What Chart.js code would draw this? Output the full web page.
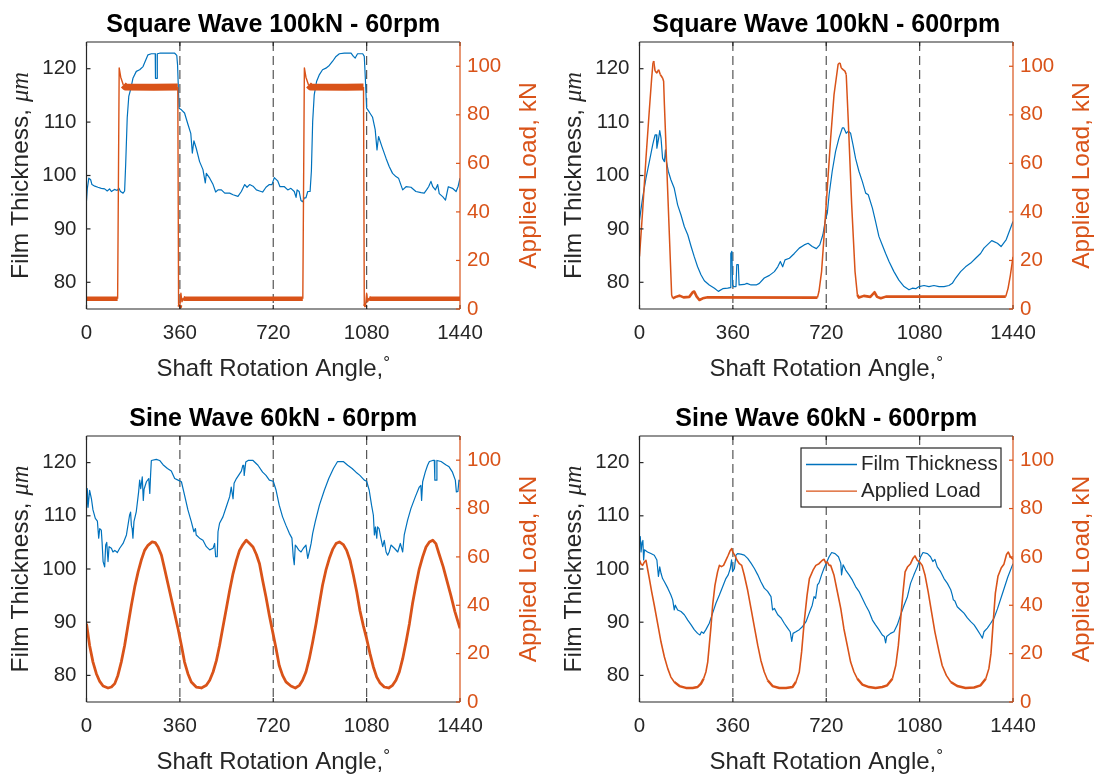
<!DOCTYPE html>
<html>
<head>
<meta charset="utf-8">
<title>Film thickness and applied load</title>
<script src="https://cdn.jsdelivr.net/npm/chart.js@4.4.1/dist/chart.umd.min.js"></script>
<style>
  html, body { margin: 0; padding: 0; background: #fff; }
  #page { position: relative; width: 1094px; height: 779px; overflow: hidden; }
  #page canvas { position: absolute; }
</style>
</head>
<body>
<div id="page">
  <canvas id="sq60" width="547" height="385" style="left:0;top:0"></canvas>
  <canvas id="sq600" width="541" height="385" style="left:553px;top:0"></canvas>
  <canvas id="sin60" width="547" height="385" style="left:0;top:394px"></canvas>
  <canvas id="sin600" width="541" height="385" style="left:553px;top:394px"></canvas>
</div>
<script>
const BLUE = '#0072BD';
const ORANGE = '#D95319';
const INK = '#262626';
const SANS = '"Liberation Sans", Arial, sans-serif';

const angleTicks = [0, 360, 720, 1080, 1440];
const filmTicks = [80, 90, 100, 110, 120];
const loadTicks = [0, 20, 40, 60, 80, 100];
const cycleMarks = [360, 720, 1080];
const seriesNames = ['Film Thickness', 'Applied Load'];

// film thickness: [shaft angle deg, um]
const sq60Film = [[0,95.3],[3,97.5],[9,99.5],[16,99.2],[21,98.3],[32,98],[44,97.8],[57,97.6],[70,97.5],[80,97.1],[89,97.5],[96,97],[108,97.4],[118,97.2],[125,97.6],[131,97],[141,96.7],[147,97.1],[151,102],[157,110.8],[163,114.8],[170,116.1],[179,118.2],[192,119.5],[205,119.8],[218,120.4],[224,121.1],[237,122.6],[250,122.8],[265,122.8],[266,118.2],[272,118.2],[273,122.8],[282,122.9],[340,122.9],[348,122.5],[351,120.8],[357,112.6],[366,112.3],[378,111.7],[391,109.6],[402,107.9],[408,104.2],[414,106.5],[423,105.1],[436,102.6],[449,101.1],[458,98.6],[462,100.4],[475,99.5],[488,98.3],[498,96.9],[507,97.3],[520,97.3],[533,96.7],[552,96.7],[565,96.4],[584,96.1],[597,97],[610,98.3],[619,97.8],[629,98.3],[642,98],[655,97.3],[667,97.1],[679,96.9],[692,97.8],[705,98.3],[715,98.3],[724,99.6],[737,99],[746,97.9],[763,97.9],[776,97.3],[788,97.6],[801,97],[808,95.9],[812,97.3],[820,97],[827,95.3],[833,95.1],[840,95.8],[846,95.8],[853,97],[862,97],[867,100.8],[872,110.1],[878,115.1],[887,117.6],[898,118.9],[910,119.8],[923,120.1],[936,120.6],[949,121.4],[962,122.3],[975,122.8],[994,122.9],[1020,122.9],[1029,122.3],[1036,122],[1045,122.8],[1065,122.8],[1071,122.3],[1075,118.2],[1080,112.6],[1090,111.9],[1103,110.9],[1113,108.6],[1120,104.8],[1126,107.3],[1139,105.4],[1155,103.2],[1167,101.7],[1180,100.4],[1193,99.8],[1203,99.5],[1219,97.3],[1232,97.9],[1251,97.8],[1270,97],[1290,96.8],[1302,96.7],[1311,97.3],[1319,97.9],[1328,98.9],[1335,97.9],[1345,97.3],[1354,98.3],[1360,96.6],[1374,96],[1384,95.4],[1395,97.9],[1411,97.6],[1425,97],[1433,98],[1440,99.5]];
const sq600Film = [[0,91.7],[12,95.8],[25,99.5],[38,102.6],[51,105.8],[60,107.6],[65,107.6],[67,105.1],[73,106.7],[78,108.4],[83,107],[89,103.2],[96,102.6],[100,104.8],[104,102.6],[111,100.8],[121,99.2],[134,97.6],[147,94.5],[160,92.6],[173,90.4],[186,88.9],[199,86.7],[211,84.8],[224,82.9],[237,81.4],[250,80.3],[269,79.5],[289,78.9],[304,78.3],[321,78.8],[340,78.9],[350,79],[352,85.4],[356,85.8],[359,79.5],[363,79.2],[372,79.2],[375,83.3],[381,83.3],[384,79.5],[404,79.6],[414,79.8],[430,79.5],[450,79.5],[462,79.8],[481,80.8],[501,81.3],[520,82],[533,82.9],[543,83.9],[552,82.9],[561,84.2],[578,84.5],[597,85.4],[616,86.4],[635,87],[650,87.3],[666,86.7],[682,86.3],[695,87],[707,88.9],[718,92],[724,92.9],[731,96.4],[743,100.8],[756,104.5],[769,107],[782,108.9],[788,108.9],[797,107.9],[805,108.3],[814,107.9],[823,105.8],[833,103.2],[846,100.8],[859,98.9],[872,96.7],[882,96.4],[898,93.9],[910,91.4],[923,88.6],[936,87],[949,85.4],[962,83.9],[981,82],[1000,80.4],[1020,79.2],[1039,78.6],[1052,78.9],[1065,78.8],[1078,79.2],[1097,79.4],[1116,79.2],[1135,79.4],[1155,79.2],[1174,79.2],[1193,79.4],[1206,79.8],[1219,80.8],[1238,82],[1257,82.9],[1277,83.6],[1296,84.5],[1315,85.4],[1328,86.4],[1341,87],[1358,87.8],[1380,87.3],[1394,86.7],[1414,88],[1440,91.4]];
const sin60Film = [[0,111.4],[3,115.1],[6,111.6],[12,114.8],[19,113.2],[25,111.1],[34,109.5],[42,109],[47,105.8],[51,107.6],[57,107.3],[60,105.1],[64,101.4],[70,100.4],[74,104.5],[78,105],[83,101.4],[87,104.2],[96,103.9],[102,103.2],[109,103.5],[119,103.1],[128,103.9],[141,104.8],[154,106.4],[166,110.1],[170,110.7],[173,108.2],[176,107.6],[179,105.8],[183,108.9],[192,110.8],[201,114.5],[205,116.7],[209,115.1],[215,117.3],[219,112.9],[222,115],[231,116.4],[240,117],[244,114.2],[247,117.6],[250,120.4],[269,120.6],[282,120.4],[295,119.6],[312,118.9],[327,118.4],[340,117],[353,116.7],[366,116.4],[378,113.9],[391,111.1],[404,108.9],[414,107],[420,107.6],[423,106.4],[436,105.8],[449,105.4],[462,104.2],[475,103.6],[488,103.9],[494,104.8],[498,102.3],[504,102.3],[507,107],[513,108.6],[526,109.8],[539,111.7],[552,113.6],[558,115.4],[565,113.2],[569,116.1],[578,117],[597,118.4],[603,119.5],[606,119.5],[608,117.6],[611,117.6],[614,120.1],[623,120.4],[642,120.4],[661,119.5],[679,118.2],[692,117.6],[705,116.7],[720,116.5],[731,114.8],[743,112],[756,109.8],[769,108.2],[782,106.7],[792,105.8],[797,102.3],[801,100.8],[805,104.5],[810,104.2],[818,103.6],[827,103.2],[836,103.9],[846,104.5],[853,102],[862,103.9],[866,104.8],[872,106.7],[882,108.9],[898,112],[917,114.8],[934,117],[952,118.9],[968,120.2],[990,120.2],[1007,119.5],[1024,118.9],[1039,118.2],[1054,117.6],[1071,116.7],[1080,116.5],[1090,114.8],[1099,112],[1106,110.1],[1110,106.4],[1114,107.9],[1119,105.8],[1122,107.9],[1128,107.6],[1135,105.8],[1142,104.2],[1148,105.4],[1155,103.2],[1161,102.6],[1167,103.2],[1174,104.5],[1187,103.9],[1200,103.2],[1210,104.8],[1219,103.2],[1225,106.4],[1238,109.2],[1251,111.4],[1268,113.6],[1283,115.4],[1289,115.7],[1292,112.9],[1296,116.4],[1306,118.2],[1315,119.5],[1322,120.2],[1335,120.4],[1341,120.4],[1343,116.7],[1350,116.7],[1351,120.4],[1367,120.2],[1385,119.6],[1398,119.2],[1411,118.2],[1422,116.7],[1426,114.5],[1432,114.6],[1436,116.7],[1440,116.5]];
const sin600Film = [[0,104.8],[3,106.1],[6,103.2],[10,105.1],[13,105.4],[16,101.7],[19,103.6],[31,103.2],[44,102.9],[57,102.6],[67,101.7],[73,98.6],[78,100.4],[83,99.2],[89,98.2],[96,97.6],[109,96.4],[121,95.1],[128,94.2],[134,92.3],[138,93.2],[147,92.3],[160,92],[173,91.4],[186,90.4],[199,89.5],[211,88.6],[224,87.9],[233,87.6],[239,88.2],[247,87.9],[256,88.6],[269,89.8],[282,91.7],[295,93.6],[308,95.1],[321,96.7],[333,98.2],[342,98.9],[350,100.1],[355,101.7],[359,99.5],[366,100.1],[372,102.6],[378,102.9],[391,102.8],[404,102.6],[417,102],[430,101.1],[443,100.1],[456,98.9],[468,97.6],[481,96.4],[494,95.8],[507,94.8],[513,92.3],[520,92.6],[533,91.4],[546,90.8],[558,89.8],[571,88.9],[581,88.2],[587,86.4],[592,87.9],[603,88.2],[616,88.6],[629,89.2],[642,90.1],[655,91.8],[666,93.2],[673,94.8],[679,94.5],[686,97],[692,97.4],[702,98.9],[711,100.1],[720,101.1],[731,102.3],[741,103.1],[754,102.9],[767,102.3],[776,101.1],[779,98.9],[785,100.8],[795,99.8],[808,98.9],[821,97.9],[833,96.7],[846,95.8],[859,94.5],[872,93.2],[885,92],[898,90.4],[910,89.5],[923,88.6],[936,87.6],[944,87.3],[949,86.1],[953,87.3],[968,87.9],[981,88.2],[994,89.5],[1007,91.4],[1020,93.2],[1033,94.8],[1045,97.3],[1058,98.9],[1071,100.4],[1084,102.3],[1093,103.1],[1110,102.9],[1122,102.3],[1131,101.4],[1139,101.8],[1148,100.4],[1161,99.5],[1174,98.2],[1187,97.3],[1200,96.1],[1206,95.1],[1210,94.2],[1216,94],[1225,92.9],[1238,92.3],[1251,91.7],[1264,90.8],[1277,90.1],[1290,89.5],[1302,88.6],[1315,87.6],[1322,87],[1328,88.2],[1341,88.9],[1354,89.8],[1367,90.8],[1380,92.5],[1400,95.5],[1420,98.5],[1440,101]];

// applied load: [shaft angle deg, kN]
const sq60Load = [[0,4.2],[120,4.2],[126,99.3],[132,95.5],[142,92.3],[150,91.5],[260,91.4],[352,91.5],[355,2],[357,1],[360,1.5],[364,6.5],[368,3],[373,4.5],[380,4.2],[834,4.2],[840,99.3],[846,95.5],[856,92.3],[864,91.5],[1000,91.4],[1068,91.5],[1071,2],[1073,1],[1076,1.5],[1080,6.5],[1084,3],[1089,4.5],[1096,4.2],[1440,4.2]];
const sq600Load = [[0,21.6],[12,40.3],[25,62.2],[38,82.1],[47,95.2],[52,101.4],[55,102.1],[60,98],[67,97.3],[74,98.6],[80,96.6],[89,95.2],[93,93.8],[96,84.2],[124,5.8],[128,4.4],[140,5],[154,5.5],[170,4.8],[192,5],[205,6.9],[211,7.2],[220,5.2],[231,3.7],[244,4.4],[263,4.8],[686,4.7],[692,7.3],[702,15.4],[711,29.2],[724,49.8],[737,70.4],[750,88.3],[766,101],[773,101.4],[778,99.3],[785,98.6],[792,98],[797,96.6],[805,77.3],[818,43],[831,15.4],[840,5.8],[846,4.7],[865,5.4],[890,5],[906,6.9],[916,5],[930,4.4],[950,5.1],[1412,5.1],[1421,8.5],[1430,14],[1440,21.5]];
const sin60Load = [[0,32.4],[12,23.4],[25,16.5],[38,11.7],[51,8.5],[64,6.6],[83,5.8],[96,6.2],[109,7.6],[121,11],[134,16.5],[147,23.4],[160,31.7],[173,40],[186,47.6],[199,53.8],[211,58.6],[224,62.7],[237,64.8],[253,66.2],[265,65.9],[276,64.1],[289,60.7],[301,55.1],[314,48.9],[327,42.7],[340,36.5],[353,30.3],[366,23.4],[378,16.5],[391,11.7],[404,8.3],[423,6.2],[443,5.8],[462,6.9],[475,9],[488,12.4],[501,17.2],[513,23.4],[526,31],[539,38.6],[552,46.2],[565,53.1],[578,58.6],[590,62.7],[603,65.1],[616,66.9],[629,65.5],[642,64.1],[655,61],[667,57.2],[679,50.3],[692,43.4],[705,35.8],[718,28.9],[731,22],[743,15.1],[756,11],[769,8.3],[788,6.6],[805,5.8],[821,6.9],[833,9],[846,12.4],[859,17.9],[872,24.8],[885,32.4],[898,40.7],[910,48.3],[923,54.5],[936,59.3],[949,63.1],[962,65.5],[975,66.2],[990,65.1],[1003,62.7],[1016,58.6],[1029,52.4],[1042,45.5],[1054,37.9],[1067,31.7],[1080,26.2],[1093,20],[1106,14.5],[1119,10.3],[1131,8],[1148,6.2],[1165,5.8],[1180,6.9],[1193,9],[1206,12.4],[1219,17.9],[1232,24.8],[1245,32.4],[1257,40.7],[1270,48.3],[1283,55.1],[1296,60],[1309,64.1],[1322,66.2],[1335,66.9],[1347,65.5],[1360,61],[1375,56],[1390,50],[1405,44],[1420,37.5],[1440,30.5]];
const sin600Load = [[0,58.6],[6,57],[12,56.5],[19,57.9],[25,58.6],[31,55.1],[38,51],[47,45.5],[57,40],[70,32.4],[83,24.8],[96,18.6],[109,13.8],[121,10.3],[134,8.3],[154,6.6],[179,5.8],[205,5.8],[224,6.2],[237,7.6],[247,9.6],[256,12.4],[263,16.5],[269,23.4],[276,31.7],[282,40],[291,48.3],[301,53.8],[308,56.5],[316,56],[324,56.5],[333,58.6],[342,60.7],[350,62.7],[355,63.4],[360,62],[368,60.5],[376,58.6],[385,57.2],[394,56.5],[404,52.4],[417,46.2],[430,38.6],[443,31],[456,23.4],[468,17.2],[481,12.4],[494,9],[513,6.6],[539,5.8],[565,5.8],[590,6.2],[603,8.3],[616,12.4],[625,20.7],[635,33.1],[646,44.1],[655,51],[669,54.5],[680,56.5],[692,57.2],[705,58.6],[712,59],[718,57.5],[724,57.9],[731,56.5],[737,56.5],[750,52.4],[763,45.5],[776,38.6],[788,30.3],[801,23.4],[814,16.5],[827,12.4],[840,9.6],[859,7.2],[885,6.2],[910,5.8],[936,6.2],[955,6.9],[975,9.6],[988,15.1],[998,23.4],[1007,34.5],[1016,45.5],[1024,53.8],[1033,55.8],[1045,57.2],[1054,59.3],[1062,60.4],[1071,58.6],[1080,57.9],[1090,56.5],[1101,52.4],[1113,45.5],[1126,37.2],[1139,28.9],[1155,20.7],[1167,15.1],[1183,11],[1200,8.3],[1225,6.6],[1257,5.8],[1290,6],[1315,6.9],[1335,9.6],[1347,13.8],[1355,20],[1363,32],[1372,45],[1382,52],[1395,55.5],[1405,57],[1415,61],[1422,62],[1430,60],[1440,59]];

const toXY = pts => pts.map(([x, y]) => ({ x, y }));
const slope = c => Math.abs((c.p1.parsed.y - c.p0.parsed.y) / ((c.p1.parsed.x - c.p0.parsed.x) || 1));

// the load signal is noisy, so its flat stretches read as a thick band; steep edges stay thin
const sq60Width = c => slope(c) > 0.25 ? 1.4 : (c.p0.parsed.y > 50 ? 7 : 4.5);
const sq600Width = c => slope(c) > 0.3 ? 1.5 : (c.p0.parsed.y < 12 ? 2.6 : 1.6);
const sin60Width = () => 2.8;
const sin600Width = c => (c.p0.parsed.y < 10 && c.p1.parsed.y < 10) ? 2.4 : 1.6;

const tickFont = { family: SANS, size: 20.5 };
const plainLabel = v => String(v);

// draws pieces of text with their own fonts, centred on x
const drawParts = (ctx, parts, x, y) => {
  const widths = parts.map(p => { ctx.font = p.font; return ctx.measureText(p.text).width; });
  let cx = x - widths.reduce((a, b) => a + b, 0) / 2;
  parts.forEach((p, i) => {
    ctx.font = p.font;
    ctx.fillText(p.text, cx, y + (p.dy || 0));
    cx += widths[i];
  });
};

const decor = cfg => ({
  id: 'decor',
  beforeDatasetsDraw(chart) {
    const { ctx, chartArea: a, scales: { x } } = chart;
    ctx.save();
    ctx.strokeStyle = '#555';
    ctx.lineWidth = 1.2;
    ctx.setLineDash([9, 5]);
    cycleMarks.forEach(v => {
      const px = x.getPixelForValue(v);
      ctx.beginPath(); ctx.moveTo(px, a.top); ctx.lineTo(px, a.bottom); ctx.stroke();
    });
    ctx.restore();
  },
  afterDraw(chart) {
    const { ctx, chartArea: a, scales: { x, y, load } } = chart;
    const line = (x1, y1, x2, y2) => { ctx.beginPath(); ctx.moveTo(x1, y1); ctx.lineTo(x2, y2); ctx.stroke(); };
    ctx.save();

    // box and inward ticks
    ctx.lineWidth = 1.2;
    ctx.strokeStyle = INK;
    line(a.left, a.top, a.right, a.top);
    line(a.left, a.bottom, a.right, a.bottom);
    line(a.left, a.top, a.left, a.bottom);
    angleTicks.forEach(v => {
      const px = x.getPixelForValue(v);
      line(px, a.bottom, px, a.bottom - 4);
      line(px, a.top, px, a.top + 4);
    });
    filmTicks.forEach(v => { const py = y.getPixelForValue(v); line(a.left, py, a.left + 4, py); });
    ctx.strokeStyle = ORANGE;
    line(a.right, a.top, a.right, a.bottom);
    loadTicks.forEach(v => { const py = load.getPixelForValue(v); line(a.right, py, a.right - 4, py); });

    const midX = (a.left + a.right) / 2;
    const midY = (a.top + a.bottom) / 2;
    ctx.textBaseline = 'alphabetic';
    ctx.textAlign = 'left';

    ctx.fillStyle = '#000';
    drawParts(ctx, [{ text: cfg.title, font: `bold 25px ${SANS}` }], midX, 31.5);

    ctx.fillStyle = INK;
    drawParts(ctx, [
      { text: 'Shaft Rotation Angle,', font: `24px ${SANS}` },
      { text: '°', font: `17px ${SANS}`, dy: -8 }
    ], midX, a.bottom + 67);

    ctx.save();
    ctx.translate(a.left - 58.5, midY);
    ctx.rotate(-Math.PI / 2);
    drawParts(ctx, [
      { text: 'Film Thickness, ', font: `24.5px ${SANS}` },
      { text: 'μm', font: `italic 24.5px "Liberation Serif", serif` }
    ], 0, 0);
    ctx.restore();

    ctx.save();
    ctx.fillStyle = ORANGE;
    ctx.translate(a.right + 76, midY);
    ctx.rotate(-Math.PI / 2);
    drawParts(ctx, [{ text: 'Applied Load, kN', font: `24.5px ${SANS}` }], 0, 0);
    ctx.restore();

    if (cfg.legend) {
      const bw = 200, bh = 59;
      const bx = a.right - 12 - bw, by = a.top + 12;
      ctx.fillStyle = '#fff';
      ctx.fillRect(bx, by, bw, bh);
      ctx.strokeStyle = INK;
      ctx.lineWidth = 1.2;
      ctx.strokeRect(bx, by, bw, bh);
      ctx.font = `20.5px ${SANS}`;
      ctx.textBaseline = 'middle';
      chart.data.datasets.forEach((ds, i) => {
        const ly = by + 16.5 + i * 26.7;
        ctx.strokeStyle = ds.borderColor;
        ctx.lineWidth = 1.3;
        line(bx + 5, ly, bx + 56, ly);
        ctx.fillStyle = INK;
        ctx.fillText(ds.label, bx + 60, ly);
      });
    }
    ctx.restore();
  }
});

const makeChart = (id, cfg) => {
  const canvas = document.getElementById(id);
  const W = canvas.width, H = canvas.height;
  const plotLeft = 86.5, plotRight = 460;

  return new Chart(canvas, {
    type: 'line',
    data: {
      datasets: [
        {
          label: seriesNames[0], data: toXY(cfg.film), yAxisID: 'y', order: 1,
          borderColor: BLUE, borderWidth: 1.2, borderJoinStyle: 'round', pointRadius: 0, tension: 0
        },
        {
          label: seriesNames[1], data: toXY(cfg.load), yAxisID: 'load', order: 0,
          borderColor: ORANGE, borderWidth: 1.6, borderJoinStyle: 'round', pointRadius: 0, tension: 0,
          segment: { borderWidth: cfg.loadWidth }
        }
      ]
    },
    options: {
      responsive: false,
      animation: false,
      devicePixelRatio: 1,
      events: [],
      layout: { padding: { top: 42, left: 0, right: 0, bottom: 0 } },
      plugins: { legend: { display: false }, title: { display: false }, tooltip: { enabled: false } },
      scales: {
        x: {
          type: 'linear', min: 0, max: 1440,
          grid: { display: false, drawTicks: false }, border: { display: false },
          afterBuildTicks: s => { s.ticks = angleTicks.map(value => ({ value })); },
          afterFit: s => { s.height = H - cfg.plotBottom; },
          ticks: { font: tickFont, color: INK, padding: 12, maxRotation: 0, autoSkip: false, callback: plainLabel }
        },
        y: {
          type: 'linear', position: 'left', min: 75, max: 125,
          grid: { display: false, drawTicks: false }, border: { display: false },
          afterBuildTicks: s => { s.ticks = filmTicks.map(value => ({ value })); },
          afterFit: s => { s.width = plotLeft; },
          ticks: { font: tickFont, color: INK, padding: 10, callback: plainLabel }
        },
        load: {
          type: 'linear', position: 'right', min: 0, max: 110,
          grid: { display: false, drawTicks: false }, border: { display: false },
          afterBuildTicks: s => { s.ticks = loadTicks.map(value => ({ value })); },
          afterFit: s => { s.width = W - plotRight; },
          ticks: { font: tickFont, color: ORANGE, padding: 7, callback: plainLabel }
        }
      }
    },
    plugins: [decor(cfg)]
  });
};

makeChart('sq60', { title: 'Square Wave 100kN - 60rpm', film: sq60Film, load: sq60Load, loadWidth: sq60Width, plotBottom: 309 });
makeChart('sq600', { title: 'Square Wave 100kN - 600rpm', film: sq600Film, load: sq600Load, loadWidth: sq600Width, plotBottom: 309 });
makeChart('sin60', { title: 'Sine Wave 60kN - 60rpm', film: sin60Film, load: sin60Load, loadWidth: sin60Width, plotBottom: 308 });
makeChart('sin600', { title: 'Sine Wave 60kN - 600rpm', film: sin600Film, load: sin600Load, loadWidth: sin600Width, plotBottom: 308, legend: true });
</script>
</body>
</html>
